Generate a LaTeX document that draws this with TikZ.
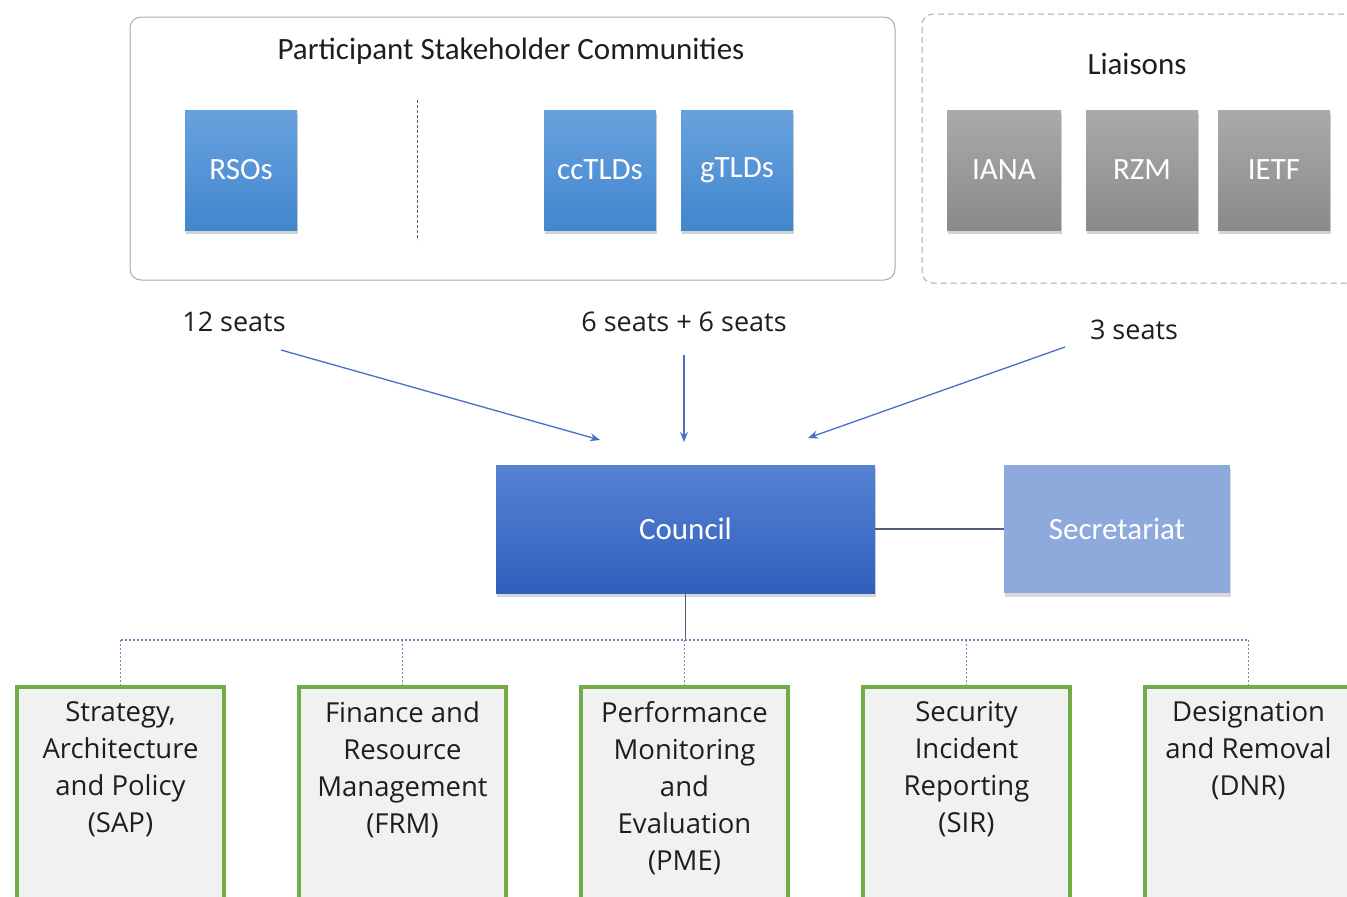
\documentclass[tikz,border=0pt]{standalone}
\usepackage{fontspec}
\setmainfont{Carlito}
\newfontfamily\segoe{Open Sans}
\usetikzlibrary{shadows,arrows.meta}
\definecolor{bluetop}{RGB}{104,162,222}
\definecolor{bluebot}{RGB}{66,134,206}
\definecolor{graytop}{RGB}{170,170,170}
\definecolor{graybot}{RGB}{138,138,138}
\definecolor{counciltop}{RGB}{86,130,210}
\definecolor{councilbot}{RGB}{48,96,190}
\definecolor{secfill}{RGB}{142,170,220}
\definecolor{arrowblue}{RGB}{68,114,196}
\definecolor{dotblue}{RGB}{110,140,190}
\definecolor{boxgreen}{RGB}{112,173,71}
\definecolor{boxfill}{RGB}{241,241,241}
\definecolor{framegray}{RGB}{170,170,170}
\definecolor{txt}{RGB}{30,30,30}
\definecolor{linkgray}{RGB}{80,95,125}
\begin{document}
\begin{tikzpicture}[x=1pt,y=-1pt,
  bigfont/.style={font=\fontsize{31}{36}\selectfont},
  smallfont/.style={font=\segoe\fontsize{27.5}{37}\selectfont},
  tile/.style={bigfont, text=white, minimum width=112pt, minimum height=120pt, inner sep=0pt,
    drop shadow={opacity=0.35, shadow xshift=1pt, shadow yshift=-4pt}},
  bluetile/.style={tile, top color=bluetop, bottom color=bluebot},
  graytile/.style={tile, top color=graytop, bottom color=graybot},
  container/.style={draw=framegray, line width=1pt, rounded corners=11pt},
  seat/.style={font=\segoe\fontsize{27}{32}\selectfont, text=txt, inner sep=0pt},
  feed/.style={draw=arrowblue, line width=1.3pt, -{Stealth[length=10pt,width=8pt]}},
  dotline/.style={draw=dotblue, line width=1.2pt, dash pattern=on 2pt off 2pt},
  committee/.style={draw=boxgreen, line width=4pt, fill=boxfill, minimum width=207pt, minimum height=220pt, inner sep=0pt},
  comtext/.style={smallfont, text=txt, align=center, anchor=north, inner sep=0pt}
]
\useasboundingbox (0,0) rectangle (1347,897);
\clip (0,0) rectangle (1347,897);
\fill[white] (0,0) rectangle (1347,897);

% containers
\node[container, minimum width=765pt, minimum height=263pt] (psc) at (512.5,148.5) {};
\node[bigfont, text=txt, inner sep=0pt] (psctitle) at (511,51) {Participant Stakeholder Communities};
\node[container, dashed, dash pattern=on 6pt off 4pt, minimum width=443pt, minimum height=269pt] (liai) at (1143.5,148.5) {};
\node[bigfont, text=txt, inner sep=0pt] (liaititle) at (1137,64) {Liaisons};

\coordinate (divtop) at (417,100);
\coordinate (divbot) at (417,240);
\draw[draw=linkgray, line width=1pt, dash pattern=on 3pt off 2pt] (divtop) -- (divbot);

% tiles
\node[bluetile] (rso) at (241,170) {RSOs};
\node[bluetile] (cc) at (600,170) {ccTLDs};
\node[bluetile] (g) at (737,170) {gTLDs};
\node[graytile, minimum width=114pt] (iana) at (1004,170) {IANA};
\node[graytile] (rzm) at (1142,170) {RZM};
\node[graytile] (ietf) at (1274,170) {IETF};

% seats
\node[seat] (s12) at (234,322) {12 seats};
\node[seat] (s66) at (684,322) {6 seats + 6 seats};
\node[seat] (s3) at (1134,330) {3 seats};

% council & secretariat
\node[bigfont, text=white, top color=counciltop, bottom color=councilbot, minimum width=379pt, minimum height=128pt, inner sep=0pt,
  drop shadow={opacity=0.3, shadow xshift=1pt, shadow yshift=-4pt}] (council) at (685.5,529) {Council};
\node[bigfont, text=white, fill=secfill, minimum width=226pt, minimum height=128pt, inner sep=0pt,
  drop shadow={opacity=0.3, shadow xshift=1pt, shadow yshift=-4pt}] (sec) at (1117,529) {Secretariat};
\draw[draw=linkgray, line width=1.2pt] (council.east) -- (sec.west);

% feeds
\coordinate (f1s) at (281,350);
\coordinate (f1e) at (600,440);
\coordinate (f2s) at (684,355);
\coordinate (f2e) at (684,442);
\coordinate (f3s) at (1065,347);
\coordinate (f3e) at (808,438);
\draw[feed] (f1s) -- (f1e);
\draw[feed] (f2s) -- (f2e);
\draw[feed] (f3s) -- (f3e);

% committees
\node[committee] (sap) at (120.5,797) {};
\node[committee] (frm) at (402.5,797) {};
\node[committee] (pme) at (684.5,797) {};
\node[committee] (sir) at (966.5,797) {};
\node[committee] (dnr) at (1248.5,797) {};
\node[comtext] (sapt) at (120.5,701) {Strategy,\\Architecture\\and Policy\\(SAP)};
\node[comtext] (frmt) at (402.5,701) {Finance and\\Resource\\Management\\(FRM)};
\node[comtext] (pmet) at (684.5,701) {Performance\\Monitoring\\and\\Evaluation\\(PME)};
\node[comtext] (sirt) at (966.5,701) {Security\\Incident\\Reporting\\(SIR)};
\node[comtext] (dnrt) at (1248.5,701) {Designation\\and Removal\\(DNR)};

% tree
\coordinate (hub) at (council.south |- 0,640);
\draw[draw=linkgray, line width=1.2pt] (council.south) -- (hub);
\draw[dotline] (sap.north |- hub) -- (dnr.north |- hub);
\foreach \b in {sap,frm,pme,sir,dnr}{
  \draw[dotline] (\b.north |- hub) -- (\b.north);
}
\end{tikzpicture}
\end{document}
